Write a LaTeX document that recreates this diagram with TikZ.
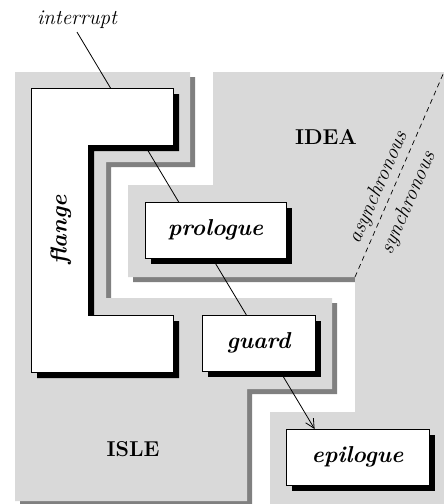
\documentclass[tikz,border=0pt]{standalone}
\usetikzlibrary{arrows.meta,shadows}
\definecolor{regionfill}{HTML}{D9D9D9}
\definecolor{regionshade}{HTML}{808080}
\begin{document}
\begin{tikzpicture}[x=1pt,y=-1pt,
  region/.style={fill=regionfill},
  regionshadow/.style={fill=regionshade},
  boxshadow/.style={fill=black},
  box/.style={draw=black, fill=white, line width=0.8pt, inner sep=0pt,
    minimum height=56pt,
    drop shadow={shadow xshift=6pt, shadow yshift=-6pt, fill=black, opacity=1},
    font=\fontsize{23}{27}\selectfont\bfseries\itshape},
  boxtext/.style={font=\fontsize{23}{27}\selectfont\bfseries\itshape, inner sep=0pt},
  regionname/.style={font=\fontsize{21.5}{26}\selectfont\bfseries},
  italiclabel/.style={font=\fontsize{21}{25}\selectfont\itshape, inner sep=2pt},
  link/.style={draw=black, line width=0.8pt},
  divider/.style={draw=black, line width=0.7pt, dash pattern=on 5pt off 4pt}]

\useasboundingbox (0,0) rectangle (444,504);

% region shadows
\begin{scope}[shift={(5,5)}]
  \fill[regionshadow] (15,72) -- (190,72) -- (190,162) -- (106,162) -- (106,298)
    -- (332,298) -- (332,389) -- (247,389) -- (247,501) -- (15,501) -- cycle;
  \fill[regionshadow] (213,72) -- (444,72) -- (444,504) -- (270,504) -- (270,412)
    -- (355,412) -- (355,277) -- (128,277) -- (128,185) -- (213,185) -- cycle;
\end{scope}
% regions
\fill[region] (15,72) -- (190,72) -- (190,162) -- (106,162) -- (106,298)
  -- (332,298) -- (332,389) -- (247,389) -- (247,501) -- (15,501) -- cycle;
\fill[region] (213,72) -- (444,72) -- (444,504) -- (270,504) -- (270,412)
  -- (355,412) -- (355,277) -- (128,277) -- (128,185) -- (213,185) -- cycle;

% region names
\node[regionname] (idea) at (326,137) {IDEA};
\node[regionname] (isle) at (133,449) {ISLE};

% divider
\coordinate (divlo) at (355,277);
\coordinate (divhi) at (444,72);
\draw[divider] (divlo) -- (divhi);
\node[italiclabel, rotate=66.4] (async) at (378.5,187.5) {asynchronous};
\node[italiclabel, rotate=66.4] (sync) at (408.5,203) {synchronous};

% interrupt label
\node[italiclabel, inner sep=3pt] (interrupt) at (77,20) {interrupt};

% connector points
\coordinate (flin) at (110.5,88);
\coordinate (flout) at (144.6,145);
\coordinate (prin) at (178.7,202);
\coordinate (prout) at (212.2,258);
\coordinate (guin) at (246.4,315);
\coordinate (guout) at (279.9,371);
\coordinate (epin) at (314.6,429);

\draw[link] (interrupt.south) -- (flin);
\draw[link] (flout) -- (prin);
\draw[link] (prout) -- (guin);
\draw[link, -{Straight Barb[length=9pt,width=9pt]}] (guout) -- (epin);

% flange
\fill[boxshadow, shift={(6,6)}] (31,88) -- (173,88) -- (173,145) -- (88,145) -- (88,315)
  -- (173,315) -- (173,372) -- (31,372) -- cycle;
\filldraw[fill=white, draw=black, line width=0.8pt] (31,88) -- (173,88) -- (173,145) -- (88,145) -- (88,315)
  -- (173,315) -- (173,372) -- (31,372) -- cycle;
\node[boxtext, rotate=90] (flange) at (61,230) {flange};

% boxes
\node[box, minimum width=141pt] (prologue) at (215.5,230) {prologue};
\node[box, minimum width=113pt] (guard) at (258.5,343) {guard};
\node[box, minimum width=143pt] (epilogue) at (357.5,457) {epilogue};

\end{tikzpicture}
\end{document}
